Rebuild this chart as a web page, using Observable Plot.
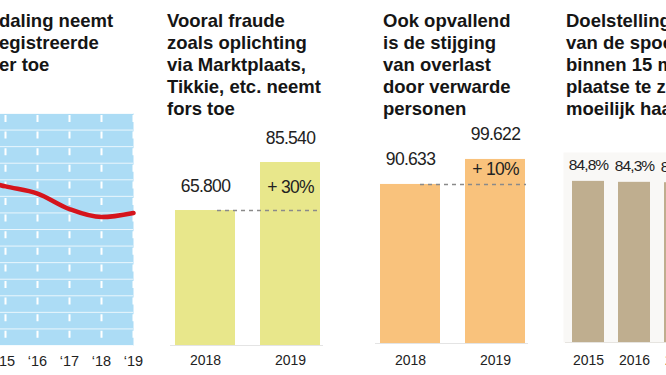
<!DOCTYPE html>
<html>
<head>
<meta charset="utf-8">
<script src="https://cdn.jsdelivr.net/npm/d3@7"></script>
<script src="https://cdn.jsdelivr.net/npm/@observablehq/plot@0.6"></script>
<style>
  html, body { margin: 0; padding: 0; background: #fff; }
  #stage { position: relative; width: 666px; height: 375px; overflow: hidden; background: #fff; }
  .title { position: absolute; top: 10px; font-family: "Liberation Sans", Arial, sans-serif; font-weight: bold;
           font-size: 18.5px; line-height: 22px; color: #151515; white-space: pre; }
  .panel { position: absolute; }
  .panel g[aria-label="text"] { letter-spacing: -0.7px; }
  .p4 g[aria-label="text"] { letter-spacing: -0.9px; }
</style>
</head>
<body>
<div id="stage"></div>
<script>
// ---- data ----
const crimeYears = [2014, 2015, 2016, 2017, 2018, 2019];
const crimeValues = [1010000, 960000, 917000, 823000, 775000, 800000];
const crimeGrid = d3.range(0, 1400001, 100000);

const fraudeYears = ["2018", "2019"];
const fraudeValues = [65800, 85540];

const overlastYears = ["2018", "2019"];
const overlastValues = [90633, 99622];

const spoedYears = ["2015", "2016", "2017"];
const spoedValues = [84.8, 84.3, 84.1];

const titles = [
  {left: -1,  text: "daling neemt\negistreerde\ner toe"},
  {left: 167, text: "Vooral fraude\nzoals oplichting\nvia Marktplaats,\nTikkie, etc. neemt\nfors toe"},
  {left: 383, text: "Ook opvallend\nis de stijging\nvan overlast\ndoor verwarde\npersonen"},
  {left: 566, text: "Doelstelling\nvan de spoedmeldingen\nbinnen 15 minuten ter\nplaatse te zijn\nmoeilijk haalbaar"}
];

// ---- helpers ----
const nl = d3.formatLocale({decimal: ",", thousands: ".", grouping: [3], currency: ["€", ""]});
const fmtInt = nl.format(",d");
const fmtPct = nl.format(".1f");
const numFont = "'Liberation Sans', Arial, sans-serif";
const baseStyle = {background: "transparent", overflow: "visible", fontSize: "14px", color: "#222",
                   fontFamily: "'Liberation Sans', Arial, sans-serif"};
const stage = document.getElementById("stage");

function place(node, left, top, cls) {
  node.classList.add("panel");
  if (cls) node.classList.add(cls);
  node.style.left = left + "px";
  node.style.top = top + "px";
  stage.appendChild(node);
}

// ---- panel 1: line ----
const crime = crimeYears.map((y, i) => ({year: y, value: crimeValues[i]}));
place(Plot.plot({
  width: 180, height: 262, marginTop: 0, marginBottom: 30, marginLeft: 0, marginRight: 20,
  style: {...baseStyle, fontSize: "14.5px"},
  x: {domain: [2014, 2019], ticks: crimeYears, tickFormat: d => "\u2018" + String(d).slice(2),
      tickSize: 0, tickPadding: 10, label: null},
  y: {domain: [0, 1400000], axis: null},
  marks: [
    Plot.frame({fill: "#acdcf5", stroke: null}),
    Plot.ruleY(crimeGrid, {stroke: "#ffffff", strokeOpacity: 0.75, strokeWidth: 1}),
    Plot.ruleX(crimeYears, {stroke: "#ffffff", strokeWidth: 2, strokeDasharray: "7,9.6", strokeDashoffset: -2}),
    Plot.line(crime, {x: "year", y: "value", stroke: "#d5141c", strokeWidth: 4.5, curve: "monotone-x"})
  ]
}), -27, 113);

// ---- panel 2: fraude bars ----
const fraude = fraudeYears.map((y, i) => ({year: y, value: fraudeValues[i]}));
const fraudeBase = 10300;
place(Plot.plot({
  width: 195, height: 245, marginTop: 0, marginBottom: 30, marginLeft: 0, marginRight: 0,
  style: baseStyle,
  x: {domain: fraudeYears, padding: 0.294, tickSize: 0, tickPadding: 10, label: null},
  y: {domain: [fraudeBase, 98700], axis: null},
  marks: [
    Plot.ruleY([fraudeBase], {stroke: "#e4e4e4", strokeWidth: 1, insetLeft: 20, insetRight: 22}),
    Plot.barY(fraude, {x: "year", y: "value", fill: "#e8e78b", clip: true}),
    Plot.ruleY([fraude[0].value], {stroke: "#8a8a8a", strokeWidth: 1.5, strokeDasharray: "4,4", insetLeft: 67, insetRight: 25}),
    Plot.text(fraude, {x: "year", y: "value", text: d => fmtInt(d.value), dy: -19, lineAnchor: "bottom",
                       fontSize: 17.5, fontFamily: numFont, fill: "#222"}),
    Plot.text([fraude[1]], {x: "year", y: "value",
                            text: d => "+ " + Math.round((d.value / fraude[0].value - 1) * 100) + "%",
                            dy: 30, lineAnchor: "bottom", fontSize: 17.5, fontFamily: numFont, fill: "#222"})
  ]
}), 150, 130);

// ---- panel 3: overlast bars ----
const overlast = overlastYears.map((y, i) => ({year: y, value: overlastValues[i]}));
const overlastBase = 33440;
place(Plot.plot({
  width: 195, height: 245, marginTop: 0, marginBottom: 32, marginLeft: 0, marginRight: 0,
  style: baseStyle,
  x: {domain: overlastYears, padding: 0.294, tickSize: 0, tickPadding: 12, label: null},
  y: {domain: [overlastBase, 110030], axis: null},
  marks: [
    Plot.ruleY([overlastBase], {stroke: "#e4e4e4", strokeWidth: 1, insetLeft: 20, insetRight: 22}),
    Plot.barY(overlast, {x: "year", y: "value", fill: "#f9c27c", clip: true}),
    Plot.ruleY([overlast[0].value], {stroke: "#8a8a8a", strokeWidth: 1.5, strokeDasharray: "4,4", insetLeft: 65, insetRight: 24}),
    Plot.text(overlast, {x: "year", y: "value", text: d => fmtInt(d.value), dy: -19, lineAnchor: "bottom",
                         fontSize: 17.5, fontFamily: numFont, fill: "#222"}),
    Plot.text([overlast[1]], {x: "year", y: "value",
                              text: d => "+ " + Math.round((d.value / overlast[0].value - 1) * 100) + "%",
                              dy: 16, lineAnchor: "bottom", fontSize: 17.5, fontFamily: numFont, fill: "#222"})
  ]
}), 355, 130);

// ---- panel 4: spoed bars ----
const spoed = spoedYears.map((y, i) => ({year: y, value: spoedValues[i]}));
place(Plot.plot({
  width: 152, height: 245, marginTop: 22, marginBottom: 33, marginLeft: 0, marginRight: 0,
  style: baseStyle,
  x: {domain: spoedYears, padding: 0.304, tickSize: 0, tickPadding: 13, label: null},
  y: {domain: [0, 100], axis: null},
  marks: [
    Plot.frame({fill: "#f9f8f6", stroke: null, insetLeft: 5}),
    Plot.ruleY([0], {stroke: "#e6e4e0", strokeWidth: 1, insetLeft: 7}),
    Plot.barY(spoed, {x: "year", y: "value", fill: "#bfae8f"}),
    Plot.text(spoed, {x: "year", y: "value", text: d => fmtPct(d.value) + "%", dy: -11, lineAnchor: "bottom",
                      fontSize: 15.5, fontFamily: numFont, fill: "#222"})
  ]
}), 558, 130, "p4");

// ---- titles ----
for (const t of titles) {
  const div = document.createElement("div");
  div.className = "title";
  div.style.left = t.left + "px";
  div.textContent = t.text;
  stage.appendChild(div);
}
</script>
</body>
</html>
